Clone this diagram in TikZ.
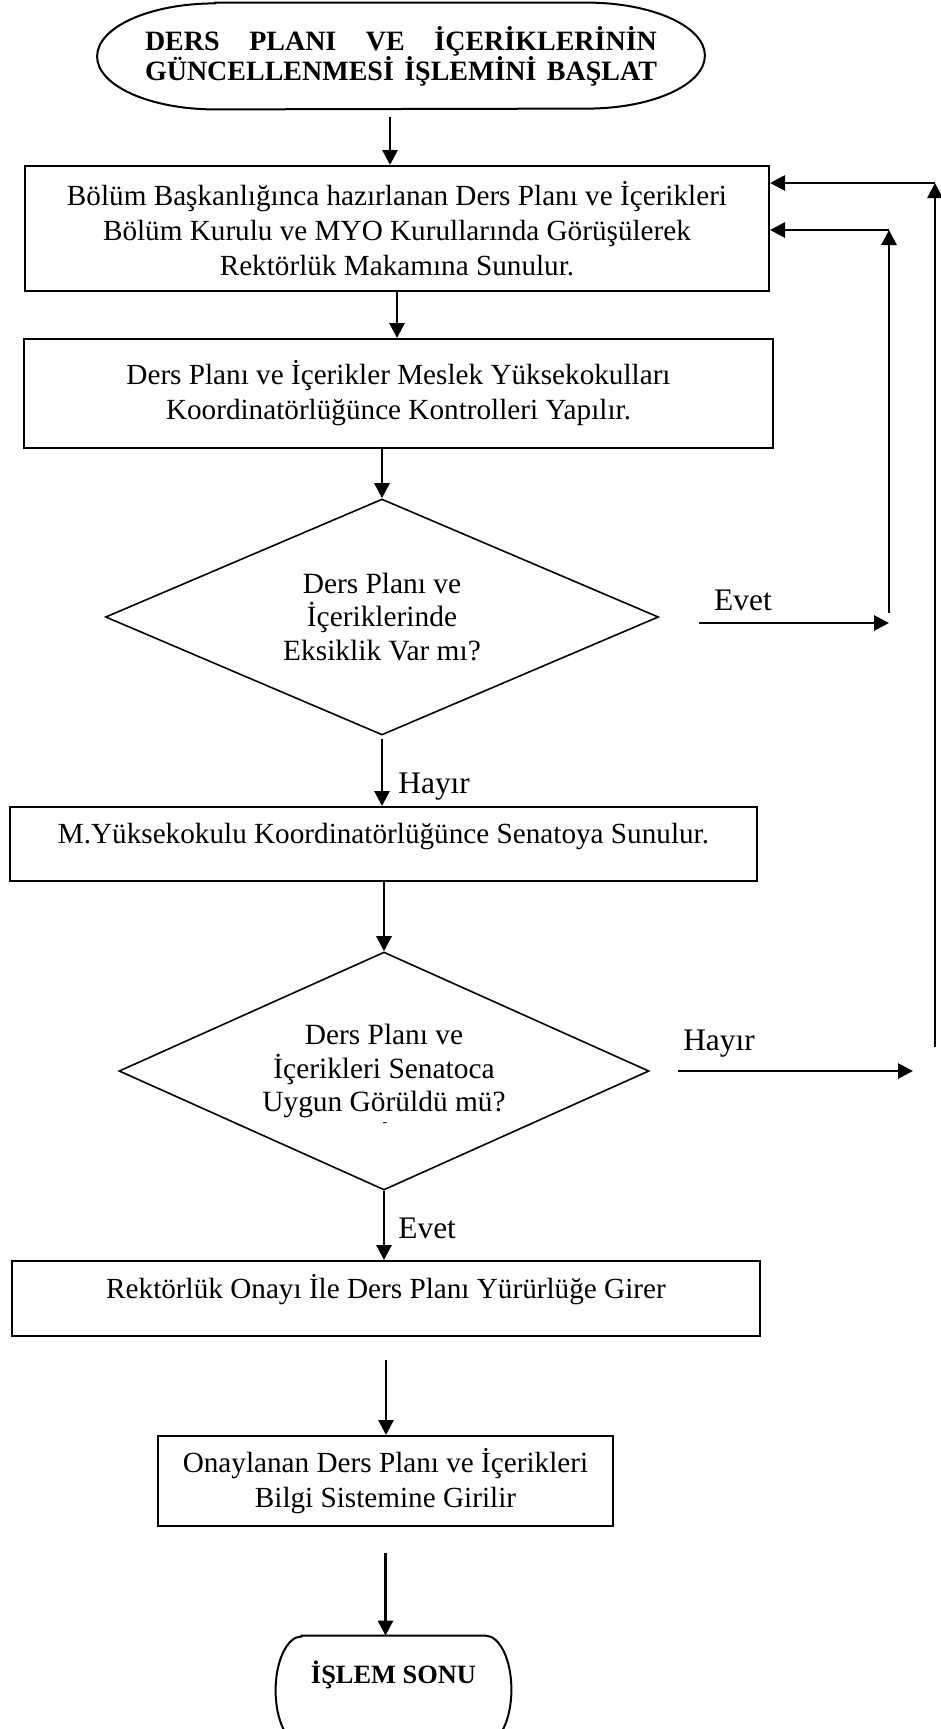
\documentclass[tikz,border=0pt]{standalone}
\usepackage{fontspec}
\setmainfont{Liberation Serif}
\usetikzlibrary{shapes.geometric,arrows.meta}

\begin{document}
\begin{tikzpicture}[x=0.5pt, y=-0.5pt,
    kutu/.style={draw, line width=1pt, align=center, inner sep=0pt, font=\fontsize{14.6}{17.5}\selectfont},
    karar/.style={draw, diamond, aspect=2.2, line width=0.8pt, align=center, inner sep=0pt, font=\fontsize{14.7}{16.8}\selectfont},
    etiket/.style={inner sep=0pt, font=\fontsize{15.7}{18}\selectfont},
    ok/.style={-{Triangle[length=7.5pt,width=7.5pt]}, line width=1.4pt}]
    \useasboundingbox (0,0) rectangle (941,1729);

    \node[minimum width=303.5pt, minimum height=53pt, align=center, font=\bfseries\fontsize{14}{15}\selectfont] (baslat) at (401,56)
        {\makebox[256pt][s]{DERS PLANI VE İÇERİKLERİNİN}\\\makebox[256pt][s]{GÜNCELLENMESİ İŞLEMİNİ BAŞLAT}};
    \draw[line width=1pt] ([xshift=59pt]baslat.north west) -- ([xshift=-59pt]baslat.north east)
        arc[start angle=90, end angle=-90, x radius=59pt, y radius=26.5pt] -- ([xshift=59pt]baslat.south west)
        arc[start angle=270, end angle=90, x radius=59pt, y radius=26.5pt] -- cycle;

    \node[kutu, minimum width=372pt, minimum height=62.5pt] (plan) at (397,228.5)
        {Bölüm Başkanlığınca hazırlanan Ders Planı ve İçerikleri\\Bölüm Kurulu ve MYO Kurullarında Görüşülerek\\Rektörlük Makamına Sunulur.};
    \node[kutu, minimum width=374.5pt, minimum height=54.5pt] (kontrol) at (398.5,393.5)
        {Ders Planı ve İçerikler Meslek Yüksekokulları\\Koordinatörlüğünce Kontrolleri Yapılır.};
    \node[karar, minimum width=276.5pt, minimum height=118pt] (eksik) at (382,617)
        {Ders Planı ve\\İçeriklerinde\\Eksiklik Var mı?};
    \node[kutu, minimum width=373.5pt, minimum height=37pt, text height=11pt, text depth=12pt] (senato) at (383.5,844)
        {M.Yüksekokulu Koordinatörlüğünce Senatoya Sunulur.};
    \node[karar, minimum width=265pt, minimum height=119pt] (uygun) at (384,1071)
        {Ders Planı ve\\İçerikleri Senatoca\\Uygun Görüldü mü?};
    \node[inner sep=0pt, font=\fontsize{7}{8}\selectfont] (isaret) at (385,1125) {-};
    \node[kutu, minimum width=374pt, minimum height=37.5pt, text height=11pt, text depth=11pt] (onay) at (386,1298.5)
        {Rektörlük Onayı İle Ders Planı Yürürlüğe Girer};
    \node[kutu, minimum width=227.5pt, minimum height=45pt] (bilgi) at (385.5,1481)
        {Onaylanan Ders Planı ve İçerikleri\\Bilgi Sistemine Girilir};

    \node[minimum width=117.5pt, minimum height=54pt, text height=11pt, text depth=18pt, font=\bfseries\fontsize{13.2}{15}\selectfont] (son) at (393.5,1690) {İŞLEM SONU};
    \draw[line width=1pt] ([xshift=13pt]son.north west) -- ([xshift=-13pt]son.north east)
        arc[start angle=90, end angle=-90, x radius=13pt, y radius=27pt] -- ([xshift=13pt]son.south west)
        arc[start angle=270, end angle=90, x radius=13pt, y radius=27pt] -- cycle;

    \node[etiket] (evet1) at (743,600) {Evet};
    \node[etiket, anchor=west] (hayir1) at (398,787) {Hayır};
    \node[etiket] (hayir2) at (719,1044) {Hayır};
    \node[etiket, anchor=west] (evet2) at (398,1228) {Evet};

    \coordinate (donus1) at (889,623);
    \coordinate (donus1ust) at (889,230);
    \coordinate (donus2) at (935,1047);
    \coordinate (donus2ust) at (935,183);
    \coordinate (hayiruc) at (913,1071);

    \draw[ok, shorten <=4pt] ([xshift=-5.5pt]baslat.south) -- ([xshift=-5.5pt]baslat.south |- plan.north);
    \draw[ok] (plan.south) -- (plan.south |- kontrol.north);
    \draw[ok] (kontrol.south -| eksik.north) -- (eksik.north);
    \draw[ok, shorten <=1.5pt] (eksik.south) -- (eksik.south |- senato.north);
    \draw[ok] (senato.south -| uygun.north) -- (uygun.north);
    \draw[ok] (uygun.south) -- (uygun.south |- onay.north);
    \draw[ok, shorten <=11.5pt] (onay.south) -- (onay.south |- bilgi.north);
    \draw[ok, shorten <=13pt] (bilgi.south) -- (bilgi.south |- son.north);

    \draw[ok, shorten <=20pt] (eksik.east |- donus1) -- (donus1);
    \draw[ok] ([yshift=5pt]donus1) -- (donus1ust);
    \draw[ok] (donus1ust) -- (plan.east |- donus1ust);
    \draw[ok, shorten <=14pt] (uygun.east) -- (hayiruc);
    \draw[ok] (donus2) -- (donus2ust);
    \draw[ok] (donus2ust) -- (plan.east |- donus2ust);
\end{tikzpicture}
\end{document}
